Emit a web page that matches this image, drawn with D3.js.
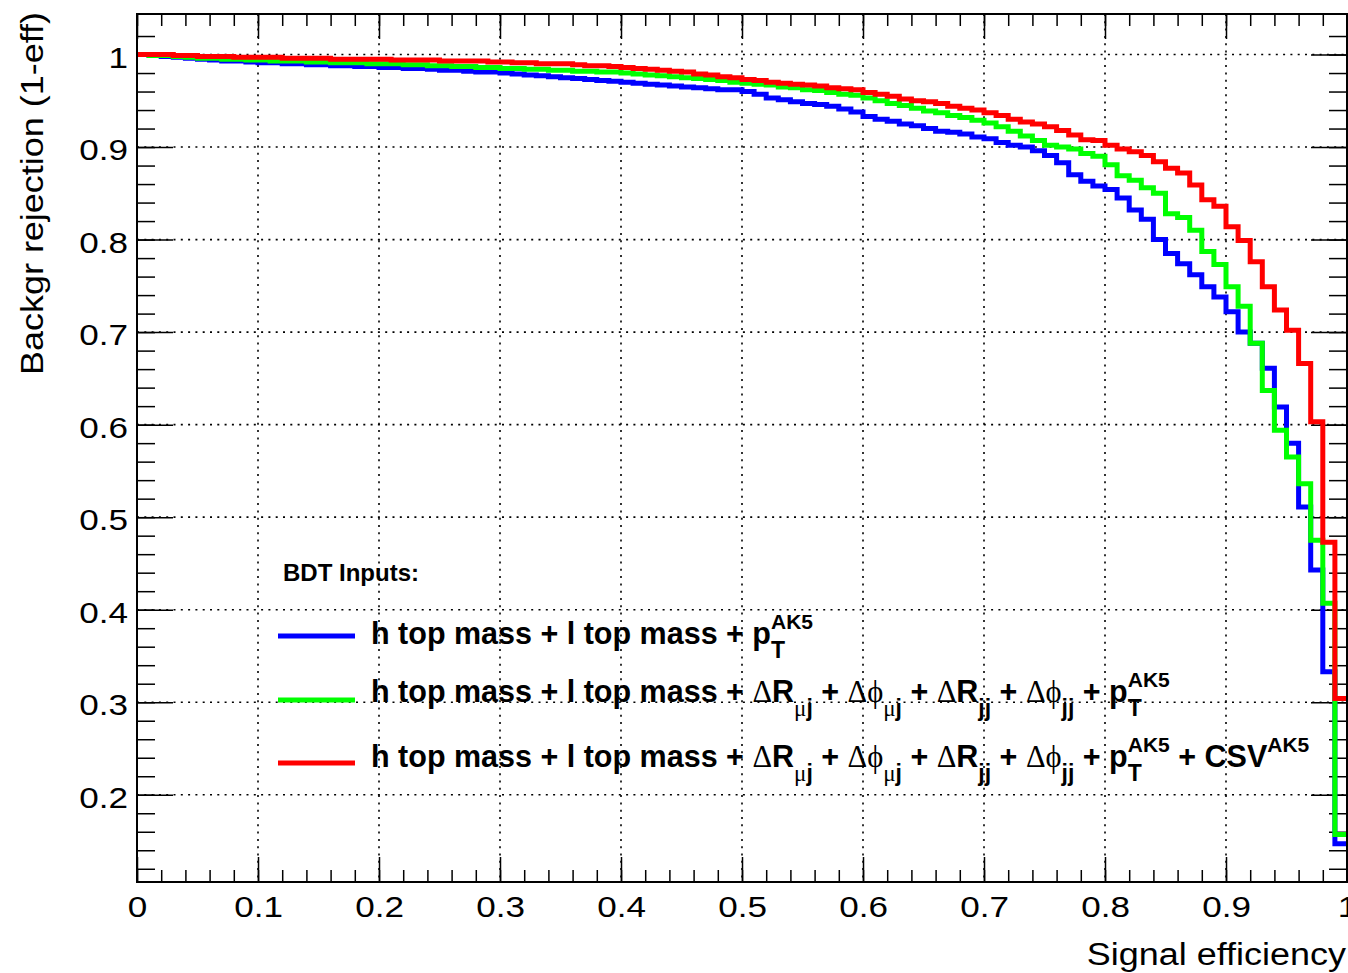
<!DOCTYPE html>
<html>
<head>
<meta charset="utf-8">
<script src="https://cdn.jsdelivr.net/npm/d3@7"></script>
<style>
  body { margin: 0; background: #fff; }
  svg { display: block; }
</style>
</head>
<body>
<div id="chart"></div>
<script>
// ROC curves: background rejection vs signal efficiency, 100 bins in [0,1]
const nBins = 100;

const blueRej = [
  1.000, 0.999, 0.998, 0.997, 0.996, 0.995, 0.994, 0.993, 0.993, 0.992,
  0.991, 0.991, 0.990, 0.990, 0.989, 0.989, 0.988, 0.988, 0.987, 0.987,
  0.986, 0.986, 0.985, 0.985, 0.984, 0.983, 0.983, 0.982, 0.981, 0.981,
  0.980, 0.979, 0.978, 0.977, 0.976, 0.975, 0.974, 0.973, 0.972, 0.971,
  0.970, 0.969, 0.968, 0.967, 0.966, 0.965, 0.964, 0.963, 0.962, 0.962,
  0.960, 0.957, 0.953, 0.951, 0.949, 0.947, 0.946, 0.944, 0.941, 0.938,
  0.933, 0.930, 0.928, 0.925, 0.923, 0.920, 0.917, 0.916, 0.914, 0.911,
  0.909, 0.905, 0.902, 0.900, 0.896, 0.891, 0.883, 0.870, 0.863, 0.858,
  0.854, 0.845, 0.832, 0.822, 0.800, 0.785, 0.774, 0.762, 0.749, 0.738,
  0.722, 0.700, 0.688, 0.661, 0.619, 0.580, 0.511, 0.443, 0.333, 0.147
];

const greenRej = [
  1.000, 0.999, 0.999, 0.998, 0.997, 0.996, 0.996, 0.995, 0.995, 0.994,
  0.994, 0.993, 0.993, 0.993, 0.992, 0.992, 0.991, 0.991, 0.991, 0.990,
  0.990, 0.990, 0.989, 0.989, 0.988, 0.988, 0.987, 0.987, 0.986, 0.986,
  0.985, 0.985, 0.984, 0.984, 0.983, 0.983, 0.982, 0.982, 0.981, 0.981,
  0.980, 0.979, 0.978, 0.977, 0.976, 0.975, 0.974, 0.973, 0.972, 0.970,
  0.969, 0.968, 0.967, 0.965, 0.964, 0.962, 0.961, 0.959, 0.957, 0.956,
  0.953, 0.950, 0.947, 0.945, 0.942, 0.939, 0.937, 0.934, 0.932, 0.929,
  0.926, 0.922, 0.917, 0.912, 0.907, 0.902, 0.900, 0.898, 0.893, 0.890,
  0.881, 0.869, 0.864, 0.856, 0.850, 0.828, 0.824, 0.810, 0.787, 0.773,
  0.749, 0.728, 0.688, 0.637, 0.594, 0.565, 0.536, 0.475, 0.407, 0.157
];

const redRej = [
  1.000, 1.000, 1.000, 0.999, 0.999, 0.998, 0.998, 0.998, 0.997, 0.997,
  0.997, 0.997, 0.996, 0.996, 0.996, 0.996, 0.995, 0.995, 0.995, 0.995,
  0.995, 0.994, 0.994, 0.994, 0.994, 0.993, 0.993, 0.993, 0.993, 0.992,
  0.992, 0.991, 0.991, 0.990, 0.990, 0.990, 0.989, 0.988, 0.988, 0.987,
  0.986, 0.985, 0.984, 0.983, 0.982, 0.981, 0.979, 0.978, 0.976, 0.975,
  0.973, 0.972, 0.970, 0.969, 0.968, 0.967, 0.966, 0.964, 0.963, 0.962,
  0.959, 0.957, 0.955, 0.952, 0.950, 0.949, 0.947, 0.944, 0.942, 0.940,
  0.937, 0.934, 0.930, 0.927, 0.925, 0.922, 0.918, 0.913, 0.908, 0.907,
  0.902, 0.898, 0.895, 0.891, 0.884, 0.877, 0.872, 0.859, 0.843, 0.836,
  0.814, 0.799, 0.776, 0.749, 0.724, 0.702, 0.666, 0.603, 0.473, 0.304
];

const xTicks = [0, 0.1, 0.2, 0.3, 0.4, 0.5, 0.6, 0.7, 0.8, 0.9, 1];
const yTicks = [0.2, 0.3, 0.4, 0.5, 0.6, 0.7, 0.8, 0.9, 1];

// legend entries, TLatex-like pieces (g: greek glyph, s: sub/sup, stack: under previous)
const legendTitle = "BDT Inputs:";
const legendEntries = [
  [
    {t: "h top mass + l top mass + p"}, {t: "AK5", s: "sup"}, {t: "T", s: "sub", stack: true}
  ],
  [
    {t: "h top mass + l top mass + "}, {t: "Δ", g: true}, {t: "R"}, {t: "μ", s: "sub", g: true}, {t: "j", s: "sub"},
    {t: " + "}, {t: "Δϕ", g: true}, {t: "μ", s: "sub", g: true}, {t: "j", s: "sub"},
    {t: " + "}, {t: "Δ", g: true}, {t: "R"}, {t: "jj", s: "sub"},
    {t: " + "}, {t: "Δϕ", g: true}, {t: "jj", s: "sub"},
    {t: " + p"}, {t: "AK5", s: "sup"}, {t: "T", s: "sub", stack: true}
  ],
  [
    {t: "h top mass + l top mass + "}, {t: "Δ", g: true}, {t: "R"}, {t: "μ", s: "sub", g: true}, {t: "j", s: "sub"},
    {t: " + "}, {t: "Δϕ", g: true}, {t: "μ", s: "sub", g: true}, {t: "j", s: "sub"},
    {t: " + "}, {t: "Δ", g: true}, {t: "R"}, {t: "jj", s: "sub"},
    {t: " + "}, {t: "Δϕ", g: true}, {t: "jj", s: "sub"},
    {t: " + p"}, {t: "AK5", s: "sup"}, {t: "T", s: "sub", stack: true},
    {t: " + CSV"}, {t: "AK5", s: "sup"}
  ]
];
const seriesColors = ["#0000ff", "#00ff00", "#ff0000"];

const width = 1348;
const height = 973;
const plot = { left: 137, right: 1347, top: 14, bottom: 882 };
const sans = "'Liberation Sans', Arial, Helvetica, sans-serif";
const serif = "'Liberation Serif', 'DejaVu Serif', serif";
const axisStretch = 1.17; // ROOT axis font is wider than Liberation Sans

const x = d3.scaleLinear().domain([0, 1]).range([plot.left, plot.right]);
const y = d3.scaleLinear().domain([0.1057, 1.0438]).range([plot.bottom, plot.top]);

const svg = d3.select("#chart").append("svg")
    .attr("width", width)
    .attr("height", height)
    .attr("viewBox", [0, 0, width, height])
    .style("font-family", sans);

// grid
const grid = svg.append("g")
    .attr("stroke", "#000")
    .attr("stroke-width", 1.6)
    .attr("stroke-dasharray", "2,5.3");

grid.selectAll("line.gx")
    .data(xTicks.filter(d => d > 0 && d < 1))
    .join("line")
    .attr("class", "gx")
    .attr("x1", d => x(d)).attr("x2", d => x(d))
    .attr("y1", plot.top).attr("y2", plot.bottom);

grid.selectAll("line.gy")
    .data(yTicks)
    .join("line")
    .attr("class", "gy")
    .attr("x1", plot.left).attr("x2", plot.right)
    .attr("y1", d => y(d)).attr("y2", d => y(d));

// axes: ROOT style, ticks inward on all four sides
const xMinor = d3.range(0, 1.0001, 0.02);
const yMinor = d3.range(0.12, 1.04, 0.02);
const xMajLen = 25, xMinLen = 12, yMajLen = 36, yMinLen = 18;

function styleAxis(g) {
    g.select(".domain").remove();
    g.selectAll(".tick line").attr("stroke", "#000").attr("stroke-width", 1.5);
}

svg.append("g")
    .attr("transform", `translate(0,${plot.bottom})`)
    .call(d3.axisBottom(x).tickValues(xTicks).tickSize(-xMajLen).tickPadding(14).tickFormat(d3.format("~g")))
    .call(styleAxis)
    .call(g => g.selectAll("text")
        .attr("font-size", 30).attr("font-family", sans).attr("fill", "#000")
        .attr("transform", `scale(${axisStretch},1)`));

svg.append("g")
    .attr("transform", `translate(0,${plot.bottom})`)
    .call(d3.axisBottom(x).tickValues(xMinor).tickSize(-xMinLen).tickFormat(""))
    .call(styleAxis);

svg.append("g")
    .attr("transform", `translate(0,${plot.top})`)
    .call(d3.axisTop(x).tickValues(xTicks).tickSize(-xMajLen).tickFormat(""))
    .call(styleAxis);

svg.append("g")
    .attr("transform", `translate(0,${plot.top})`)
    .call(d3.axisTop(x).tickValues(xMinor).tickSize(-xMinLen).tickFormat(""))
    .call(styleAxis);

svg.append("g")
    .attr("transform", `translate(${plot.left},0)`)
    .call(d3.axisLeft(y).tickValues(yTicks).tickSize(-yMajLen).tickFormat(d3.format("~g")))
    .call(styleAxis)
    .call(g => g.selectAll("text")
        .attr("font-size", 30).attr("font-family", sans).attr("fill", "#000")
        .attr("x", 0).attr("dy", "0.42em")
        .attr("transform", `translate(-9,0) scale(${axisStretch},1)`));

svg.append("g")
    .attr("transform", `translate(${plot.left},0)`)
    .call(d3.axisLeft(y).tickValues(yMinor).tickSize(-yMinLen).tickFormat(""))
    .call(styleAxis);

svg.append("g")
    .attr("transform", `translate(${plot.right},0)`)
    .call(d3.axisRight(y).tickValues(yTicks).tickSize(-yMajLen).tickFormat(""))
    .call(styleAxis);

svg.append("g")
    .attr("transform", `translate(${plot.right},0)`)
    .call(d3.axisRight(y).tickValues(yMinor).tickSize(-yMinLen).tickFormat(""))
    .call(styleAxis);

// curves (histogram steps)
const edges = d3.range(nBins + 1).map(i => i / nBins);
const stepLine = d3.line()
    .x(d => x(d[0]))
    .y(d => y(d[1]))
    .curve(d3.curveStepAfter);

[blueRej, greenRej, redRej].forEach((vals, k) => {
    const pts = edges.map((e, i) => [e, vals[Math.min(i, nBins - 1)]]);
    svg.append("path")
        .datum(pts)
        .attr("fill", "none")
        .attr("stroke", seriesColors[k])
        .attr("stroke-width", 5)
        .attr("d", stepLine);
});

// frame
svg.append("rect")
    .attr("x", plot.left).attr("y", plot.top)
    .attr("width", plot.right - plot.left).attr("height", plot.bottom - plot.top)
    .attr("fill", "none").attr("stroke", "#000").attr("stroke-width", 2);

// axis titles
svg.append("text")
    .attr("transform", `translate(${plot.right - 1},965) scale(1.16,1)`)
    .attr("text-anchor", "end")
    .attr("font-size", 31)
    .text("Signal efficiency");

svg.append("text")
    .attr("transform", "translate(43,12) rotate(-90) scale(1.16,1)")
    .attr("text-anchor", "end")
    .attr("font-size", 31)
    .text("Backgr rejection (1-eff)");

// legend
const legend = svg.append("g");

legend.append("text")
    .attr("x", 283).attr("y", 581)
    .attr("font-size", 24).attr("font-weight", "bold")
    .text(legendTitle);

const rowY = [644, 702, 767];
const lineY = [636, 700, 763];

function drawRich(g, tokens, x0, y0) {
    let cx = x0, lastStart = x0;
    tokens.forEach(tk => {
        const sx = tk.stack ? lastStart : cx;
        const dy = tk.s === "sup" ? -15 : tk.s === "sub" ? 14 : 0;
        const el = g.append("text")
            .attr("x", sx).attr("y", y0 + dy)
            .attr("font-size", tk.s ? (tk.s === "sub" ? 23 : 21) : 30.5)
            .attr("font-weight", tk.g ? "normal" : "bold")
            .attr("font-family", tk.g ? serif : sans)
            .text(tk.t.replace(/ /g, "\u00a0"));
        const w = el.node().getComputedTextLength();
        if (tk.stack) {
            cx = Math.max(cx, sx + w);
        } else {
            lastStart = sx;
            cx = sx + w;
        }
    });
}

legendEntries.forEach((tokens, i) => {
    legend.append("line")
        .attr("x1", 278).attr("x2", 355)
        .attr("y1", lineY[i]).attr("y2", lineY[i])
        .attr("stroke", seriesColors[i]).attr("stroke-width", 5);
    drawRich(legend, tokens, 371, rowY[i]);
});
</script>
</body>
</html>
